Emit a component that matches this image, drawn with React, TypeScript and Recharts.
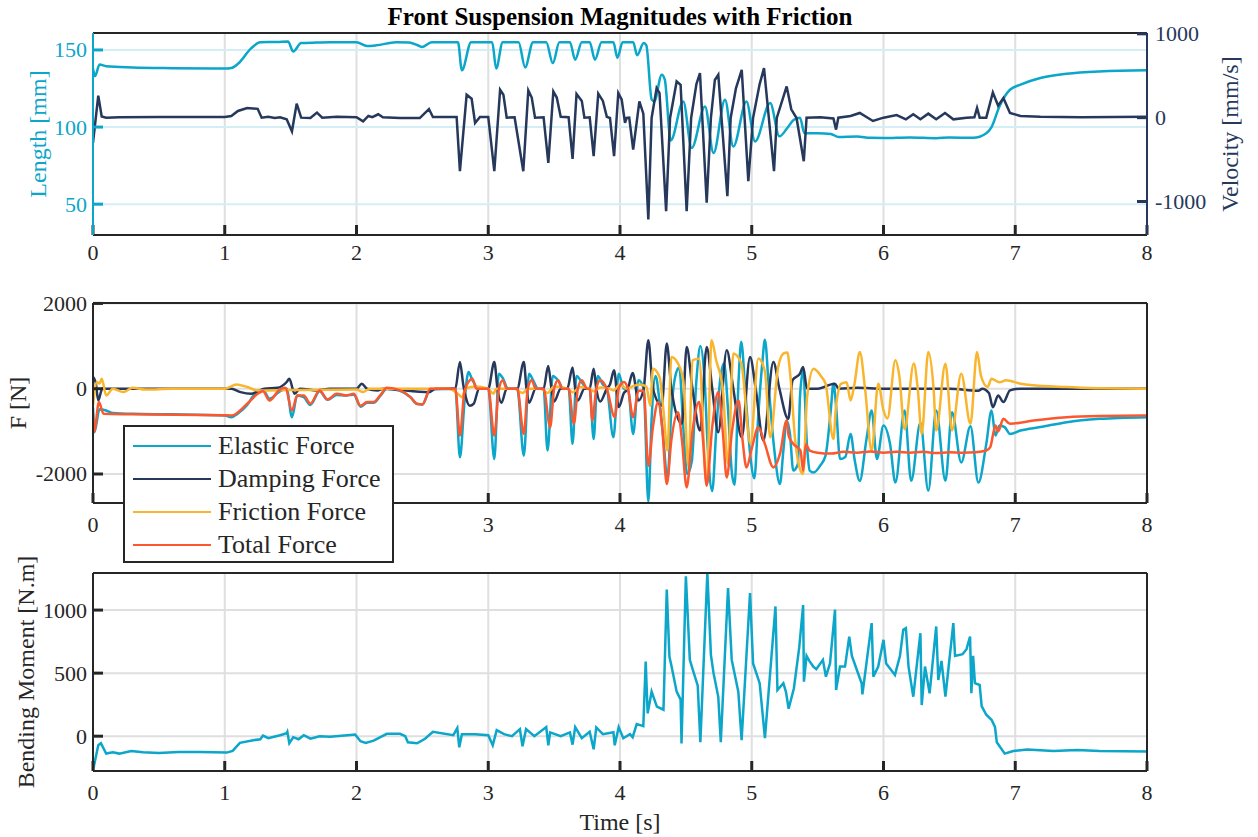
import { LineChart, Line, XAxis, YAxis, CartesianGrid, Legend } from 'recharts'

const CYAN = '#0ba6c9'
const NAVY = '#26385b'
const GOLD = '#f9b52e'
const RED = '#fc5830'
const INK = '#262626'
const GRID = '#dfdfdf'
const GRID_BLUE = '#d4eef5'
const FONT = "'Liberation Serif', 'Times New Roman', serif"

const timeTicks = [0, 1, 2, 3, 4, 5, 6, 7, 8]
const lengthTicks = [50, 100, 150]
const velocityTicks = [-1000, 0, 1000]
const forceTicks = [-2000, 0, 2000]
const momentTicks = [0, 500, 1000]
const forceNames = ['Elastic Force', 'Damping Force', 'Friction Force', 'Total Force']

type Pt = [number, number]

// [time s, length mm]
const lengthPts: Pt[] = [
  [0, 138], [0.015, 133], [0.05, 140.5], [0.1, 139.5], [0.3, 138.7], [0.6, 138.2], [1.0, 137.9], [1.05, 138.3],
  [1.1, 141], [1.2, 151], [1.27, 155], [1.4, 155.2], [1.48, 155.5], [1.52, 149], [1.58, 154.5], [1.7, 154.8],
  [1.8, 155], [2.0, 155], [2.08, 152.6], [2.15, 153], [2.3, 155], [2.4, 154.8], [2.46, 153.2], [2.5, 152],
  [2.57, 155], [2.77, 155], [2.8, 136.8], [2.87, 155], [3.03, 155], [3.06, 138], [3.11, 155], [3.23, 155],
  [3.28, 138.7], [3.34, 155], [3.44, 155], [3.49, 141.5], [3.54, 155], [3.62, 155], [3.66, 143.7], [3.71, 155],
  [3.77, 155], [3.81, 143.7], [3.86, 155], [3.95, 155], [3.98, 145], [4.02, 155], [4.1, 155], [4.13, 146.6],
  [4.18, 154.5], [4.2, 153], [4.24, 118], [4.26, 116.6], [4.317, 134], [4.34, 130.7], [4.385, 91.3], [4.48, 116.6],
  [4.544, 86.4], [4.645, 113.4], [4.71, 83.2], [4.797, 117.7], [4.86, 87.4], [4.96, 116.6], [5.025, 90.7],
  [5.14, 115.6], [5.21, 94], [5.27, 99.4], [5.32, 104.7], [5.366, 106], [5.4, 96], [5.5, 96], [5.6, 95.5],
  [5.66, 93.5], [5.8, 93.8], [5.9, 93], [6.0, 92.9], [6.2, 93.3], [6.4, 92.8], [6.5, 93.2], [6.68, 93],
  [6.78, 96], [6.82, 100], [6.88, 113.4], [6.96, 124.2], [7.04, 127.5], [7.19, 131.8], [7.39, 134.6],
  [7.64, 136.1], [8.0, 136.8],
]

// [time s, velocity mm/s]
const velocityPts: Pt[] = [
  [0, -300], [0.04, 262], [0.066, 15], [0.1, 0], [0.2, 5], [0.5, 8], [1.0, 8], [1.05, 20], [1.1, 80], [1.17, 115],
  [1.25, 105], [1.28, 0], [1.33, 10], [1.38, -5], [1.42, 5], [1.47, -20], [1.51, -163], [1.546, 167], [1.58, 0],
  [1.65, -5], [1.7, 60], [1.74, 0], [1.85, 10], [2.0, 5], [2.05, -44], [2.09, 20], [2.12, 5], [2.165, 40],
  [2.2, 5], [2.33, -5], [2.48, -5], [2.55, 103], [2.58, 8], [2.76, 8], [2.785, -639], [2.836, 274], [2.874, 226],
  [2.9, -63], [2.937, 8], [3.0, 8], [3.046, -639], [3.09, 333], [3.115, 274], [3.14, 0], [3.2, 5], [3.266, -639],
  [3.304, 325], [3.33, 240], [3.355, 0], [3.42, 5], [3.456, -539], [3.494, 313], [3.52, 240], [3.55, 10],
  [3.61, 5], [3.64, -492], [3.67, 282], [3.71, 200], [3.73, 0], [3.77, 5], [3.8, -460], [3.835, 286], [3.87, 200],
  [3.9, 10], [3.924, -4], [3.955, -460], [3.987, 294], [4.013, 214], [4.038, -63], [4.05, -4], [4.07, 0],
  [4.1, -381], [4.147, 194], [4.177, 48], [4.215, -1214], [4.24, -4], [4.278, 353], [4.3, 294], [4.35, -1115],
  [4.38, -4], [4.43, 432], [4.46, 392], [4.506, -1115], [4.54, -4], [4.58, 400], [4.607, 532], [4.658, -1015],
  [4.69, -4], [4.72, 450], [4.746, 512], [4.815, -936], [4.84, -4], [4.88, 350], [4.924, 571], [4.974, -758],
  [5.01, -4], [5.06, 400], [5.093, 591], [5.169, -639], [5.19, -4], [5.265, 373], [5.3, 100], [5.34, -4],
  [5.395, -520], [5.416, 0], [5.52, 5], [5.62, -10], [5.64, -143], [5.657, 0], [5.75, 20], [5.82, 56],
  [5.92, -40], [6.0, 0], [6.1, 30], [6.17, -20], [6.226, 40], [6.28, -20], [6.34, 48], [6.4, -20], [6.467, 56],
  [6.53, -20], [6.63, 0], [6.69, 5], [6.71, 115], [6.73, 0], [6.78, 0], [6.83, 301], [6.87, 143], [6.91, 234],
  [6.96, 56], [7.04, 20], [7.19, 10], [7.5, 5], [8.0, 10],
]

// [time s, force N]
const elasticPts: Pt[] = [
  [0, -433], [0.01, -1021], [0.05, -480], [0.1, -510], [0.15, -570], [0.3, -590], [0.6, -600], [1.0, -628],
  [1.05, -667], [1.1, -580], [1.17, -380], [1.22, -158], [1.27, -60], [1.29, -30], [1.34, -235], [1.41, -80],
  [1.47, 0], [1.51, -667], [1.55, -157], [1.6, -200], [1.65, -380], [1.72, -60], [1.78, -260], [1.85, -150],
  [1.92, -160], [1.98, -140], [2.03, -420], [2.08, -330], [2.13, -330], [2.18, -170], [2.23, 0], [2.33, -50],
  [2.41, -200], [2.46, -360], [2.5, -370], [2.56, -20], [2.75, 0], [2.785, -1610], [2.82, -300], [2.85, 392],
  [2.88, 200], [2.93, 0], [3.0, 0], [3.046, -1650], [3.08, 350], [3.11, 250], [3.15, 0], [3.22, 0],
  [3.27, -1570], [3.31, 350], [3.34, 200], [3.38, 0], [3.42, 0], [3.45, -1450], [3.49, 300], [3.53, 200],
  [3.57, 0], [3.61, 0], [3.64, -1295], [3.67, 300], [3.71, 150], [3.75, 0], [3.77, 0], [3.8, -1180], [3.83, 300],
  [3.87, 100], [3.9, 0], [3.95, -1140], [3.99, 353], [4.03, 0], [4.06, 0], [4.1, -1060], [4.14, 200], [4.18, 0],
  [4.215, -2650], [4.24, -700], [4.27, 300], [4.3, -300], [4.33, -1200], [4.36, -2150], [4.39, -500], [4.42, 300],
  [4.45, 500], [4.48, -900], [4.51, -2000], [4.545, -1700], [4.58, 200], [4.61, 1000], [4.64, 300], [4.67, -1600],
  [4.7, -2400], [4.73, -1000], [4.76, 200], [4.79, 600], [4.82, -500], [4.85, -2000], [4.87, -2250], [4.9, 200],
  [4.92, 1100], [4.95, 0], [4.99, -1600], [5.02, -2100], [5.05, -600], [5.08, 600], [5.1, 1150], [5.13, 0],
  [5.17, -1400], [5.214, -2235], [5.24, -1450], [5.265, -745], [5.29, -1060], [5.315, -1920], [5.35, -1765],
  [5.366, -196], [5.39, 430], [5.42, -1370], [5.44, -1920], [5.47, -1963], [5.52, -1800], [5.56, -1570],
  [5.6, -500], [5.62, 118], [5.64, -400], [5.67, -1650], [5.71, -1600], [5.75, -1060], [5.78, -1650],
  [5.82, -2160], [5.87, -1200], [5.91, -510], [5.95, -1650], [6.0, -860], [6.05, -1300], [6.09, -2200],
  [6.16, -510], [6.21, -2160], [6.28, -800], [6.34, -2390], [6.4, -510], [6.47, -2160], [6.52, -550],
  [6.59, -1730], [6.66, -880], [6.72, -2200], [6.78, -1300], [6.82, -510], [6.85, -1100], [6.88, -860],
  [6.92, -900], [6.96, -1060], [7.04, -980], [7.19, -900], [7.39, -784], [7.64, -706], [8.0, -667],
]

const dampingPts: Pt[] = [
  [0, 275], [0.02, 150], [0.04, -275], [0.07, 0], [0.2, 0], [1.05, 0], [1.12, -80], [1.2, -118], [1.25, -60],
  [1.3, 0], [1.4, 20], [1.47, 157], [1.49, 235], [1.53, -118], [1.57, 0], [1.7, -40], [1.8, 0], [2.0, 0],
  [2.04, 118], [2.08, 0], [2.16, -40], [2.2, 0], [2.55, -80], [2.6, 0], [2.75, 0], [2.785, 627], [2.81, 100],
  [2.83, -200], [2.86, -400], [2.89, -350], [2.93, 0], [3.0, 0], [3.046, 627], [3.07, 0], [3.1, -330], [3.14, 0],
  [3.22, 0], [3.27, 627], [3.29, 0], [3.31, -330], [3.36, 0], [3.42, 0], [3.455, 530], [3.48, 0], [3.5, -300],
  [3.55, 0], [3.6, 0], [3.64, 500], [3.66, 0], [3.68, -280], [3.73, 0], [3.77, 0], [3.8, 470], [3.82, 0],
  [3.85, -300], [3.9, 0], [3.924, 100], [3.955, 431], [3.99, -431], [4.03, -100], [4.06, 0], [4.096, 369],
  [4.14, -275], [4.18, 0], [4.215, 1137], [4.25, 0], [4.317, -392], [4.355, 1059], [4.39, 0], [4.47, -823],
  [4.506, 980], [4.55, 0], [4.607, -980], [4.658, 980], [4.7, 0], [4.746, -1020], [4.81, 902], [4.86, 0],
  [4.924, -1137], [4.987, 745], [5.03, 0], [5.088, -1215], [5.164, 627], [5.21, 0], [5.277, -706], [5.31, 200],
  [5.366, 353], [5.39, 510], [5.42, 0], [5.5, 0], [5.63, 118], [5.66, 0], [5.8, 20], [6.0, 0], [6.5, 0],
  [6.72, -50], [6.75, 0], [6.8, -100], [6.83, -433], [6.87, -157], [6.91, -314], [6.96, -40], [7.04, 0], [8.0, 0],
]

const frictionPts: Pt[] = [
  [0, -392], [0.03, 157], [0.05, 120], [0.066, 235], [0.1, -157], [0.15, 0], [0.23, -78], [0.3, 20], [0.4, -20],
  [0.6, 0], [1.0, 0], [1.09, 100], [1.17, 40], [1.25, -40], [1.5, -30], [2.0, -20], [2.05, -78], [2.1, 0],
  [2.7, 0], [2.78, -150], [2.8, -200], [2.83, 0], [2.9, 50], [3.0, 0], [3.04, -120], [3.06, 0], [3.2, 0],
  [3.26, -100], [3.3, 0], [3.4, 0], [3.45, -100], [3.5, 50], [3.6, 0], [3.64, -80], [3.7, 40], [3.77, 0],
  [3.8, -60], [3.85, 30], [3.92, 0], [3.95, -40], [4.0, 100], [4.05, 0], [4.1, 60], [4.15, 100], [4.2, 50],
  [4.23, -400], [4.25, 470], [4.3, 275], [4.33, -510], [4.36, -1450], [4.39, 745], [4.44, 590], [4.48, 200],
  [4.52, -1840], [4.55, 666], [4.6, 700], [4.658, -2250], [4.695, 1137], [4.73, 666], [4.78, 0], [4.82, -1765],
  [4.86, 823], [4.92, 600], [4.99, -1295], [5.05, 710], [5.1, 400], [5.14, -1137], [5.2, 500], [5.24, 823],
  [5.27, 850], [5.29, 400], [5.33, -1215], [5.37, -1920], [5.39, -2000], [5.42, -196], [5.47, 470], [5.53, 275],
  [5.56, 118], [5.62, -1180], [5.64, -400], [5.68, 118], [5.72, 150], [5.75, -275], [5.78, 118], [5.82, 863],
  [5.86, 0], [5.91, -1450], [5.96, 118], [6.0, -510], [6.03, -700], [6.09, 667], [6.12, 300], [6.16, -948],
  [6.23, 590], [6.26, 0], [6.29, -1060], [6.34, 860], [6.38, 0], [6.4, -980], [6.47, 588], [6.52, -980],
  [6.59, 353], [6.66, -823], [6.71, 860], [6.74, 300], [6.79, 40], [6.82, 235], [6.88, 150], [6.93, 196],
  [7.04, 118], [7.14, 80], [7.39, 40], [7.64, 10], [8.0, 0],
]

const totalPts: Pt[] = [
  [0, -590], [0.01, -1000], [0.045, -314], [0.08, -590], [0.3, -600], [1.0, -620], [1.05, -628], [1.17, -353],
  [1.25, -118], [1.29, -60], [1.34, -275], [1.41, -40], [1.46, 20], [1.51, -510], [1.55, -157], [1.6, -160],
  [1.65, -353], [1.72, -40], [1.78, -250], [1.85, -118], [1.92, -157], [1.98, -118], [2.03, -400], [2.08, -314],
  [2.13, -314], [2.18, -157], [2.23, 20], [2.33, -40], [2.41, -196], [2.46, -353], [2.5, -370], [2.56, 0],
  [2.75, 0], [2.785, -1098], [2.82, -50], [2.88, 235], [2.91, 0], [3.0, 0], [3.046, -1098], [3.08, -20],
  [3.11, 200], [3.14, 0], [3.22, 0], [3.27, -1060], [3.3, 0], [3.33, 200], [3.36, 0], [3.42, 0], [3.47, -902],
  [3.5, 0], [3.53, 200], [3.56, 0], [3.61, 0], [3.65, -823], [3.68, 0], [3.71, 200], [3.75, 0], [3.77, 0],
  [3.79, -745], [3.82, 0], [3.85, 200], [3.9, 0], [3.96, -667], [3.99, 0], [4.03, 157], [4.06, 0], [4.1, -667],
  [4.14, -50], [4.18, -50], [4.215, -1805], [4.25, -900], [4.29, -314], [4.32, -900], [4.355, -2235],
  [4.39, -1200], [4.44, -550], [4.47, -1200], [4.506, -2315], [4.55, -1000], [4.6, -314], [4.63, -1200],
  [4.658, -2275], [4.7, -900], [4.746, -78], [4.78, -1000], [4.81, -2080], [4.85, -1000], [4.9, -275],
  [4.93, -1200], [4.96, -1845], [5.0, -1400], [5.05, -902], [5.1, -1300], [5.164, -1845], [5.214, -1530],
  [5.265, -745], [5.28, -1100], [5.315, -1294], [5.37, -1450], [5.39, -1922], [5.41, -1300], [5.44, -1450],
  [5.5, -1500], [5.6, -1520], [5.7, -1480], [5.8, -1500], [5.9, -1470], [6.0, -1500], [6.1, -1480],
  [6.2, -1500], [6.3, -1480], [6.4, -1510], [6.5, -1490], [6.6, -1500], [6.7, -1490], [6.78, -1450],
  [6.81, -1370], [6.85, -860], [6.87, -1000], [6.91, -706], [6.96, -823], [7.14, -745], [7.39, -667],
  [7.64, -640], [8.0, -630],
]

// [time s, bending moment N.m]
const momentPts: Pt[] = [
  [0, -271], [0.04, -72], [0.06, -56], [0.1, -138], [0.15, -127], [0.2, -138], [0.29, -117], [0.38, -127],
  [0.5, -133], [0.65, -125], [0.81, -125], [1.015, -130], [1.06, -117], [1.115, -53], [1.217, -32], [1.27, -24],
  [1.29, 5], [1.33, -16], [1.42, 8], [1.47, 24], [1.475, 35], [1.49, -56], [1.52, -8], [1.56, -24], [1.6, 8],
  [1.65, -20], [1.72, 0], [1.8, -5], [1.93, 8], [1.99, 13], [2.03, -40], [2.07, -53], [2.13, -35], [2.23, 19],
  [2.33, 19], [2.37, 0], [2.39, -48], [2.46, -56], [2.52, -20], [2.58, 35], [2.735, 8], [2.765, 64], [2.78, -88],
  [2.8, 16], [2.9, 16], [3.0, 8], [3.034, -72], [3.064, 48], [3.12, 16], [3.18, 0], [3.24, 56], [3.26, -80],
  [3.287, 56], [3.35, 0], [3.44, 72], [3.456, -72], [3.47, 30], [3.55, 0], [3.62, 30], [3.64, -67], [3.66, 72],
  [3.71, -16], [3.77, 35], [3.8, -104], [3.82, 69], [3.87, 16], [3.95, 32], [3.96, -72], [3.99, 72],
  [4.025, -16], [4.076, 16], [4.096, -8], [4.127, 96], [4.177, 80], [4.195, 591], [4.21, 181], [4.24, 353],
  [4.28, 234], [4.33, 210], [4.355, 1162], [4.375, 631], [4.39, 560], [4.43, 353], [4.46, 290], [4.467, -58],
  [4.5, 1268], [4.53, 605], [4.557, 512], [4.59, 400], [4.61, -48], [4.663, 1295], [4.69, 645], [4.71, 500],
  [4.746, 312], [4.765, -48], [4.82, 1175], [4.848, 605], [4.898, 353], [4.923, -32], [4.987, 1135], [5.01, 577],
  [5.06, 420], [5.1, -16], [5.18, 1029], [5.195, 366], [5.24, 420], [5.26, 350], [5.28, 218], [5.32, 380],
  [5.36, 700], [5.39, 1040], [5.396, 432], [5.416, 637], [5.437, 597], [5.467, 552], [5.49, 531], [5.54, 605],
  [5.563, 472], [5.594, 577], [5.632, 1003], [5.64, 366], [5.67, 552], [5.708, 552], [5.74, 790], [5.76, 637],
  [5.834, 420], [5.84, 332], [5.91, 897], [5.923, 472], [5.96, 552], [6.0, 764], [6.02, 577], [6.087, 486],
  [6.125, 637], [6.15, 844], [6.17, 857], [6.19, 552], [6.226, 313], [6.28, 817], [6.29, 247], [6.315, 552],
  [6.35, 340], [6.4, 870], [6.416, 446], [6.44, 597], [6.47, 313], [6.53, 897], [6.543, 637], [6.6, 650],
  [6.63, 690], [6.657, 790], [6.667, 340], [6.68, 637], [6.694, 420], [6.73, 406], [6.745, 239], [6.78, 170],
  [6.82, 130], [6.846, 74], [6.86, -48], [6.92, -138], [6.985, -117], [7.09, -106], [7.29, -117], [7.47, -109],
  [7.64, -117], [8.0, -122],
]

const rows = (pts: Pt[]) => pts.map(([t, v]) => ({ t, v }))

// tick text drawn by hand so the serif font sticks
function tickText(color: string, axis: 'x' | 'y', hide: number[] = []) {
  return (p: any) => {
    const v = p.payload?.value
    if (hide.includes(v)) return <g />
    return (
      <text x={p.x} y={p.y} dy={axis === 'x' ? '0.71em' : '0.34em'} textAnchor={p.textAnchor} fill={color}
        style={{ fontFamily: FONT, fontSize: 22 }}>
        {v}
      </text>
    )
  }
}

function AxisTitle({ text, x, y, color = INK, rotate = true }: { text: string; x: number; y: number; color?: string; rotate?: boolean }) {
  return (
    <div style={{
      position: 'absolute', left: x, top: y, transform: `translate(-50%, -50%)${rotate ? ' rotate(-90deg)' : ''}`,
      whiteSpace: 'nowrap', fontSize: 24, lineHeight: '26px', color, fontFamily: FONT, zIndex: 2,
    }}>
      {text}
    </div>
  )
}

function ForceLegend(props: any) {
  const items = [...(props.payload || [])].sort((a: any, b: any) => forceNames.indexOf(a.value) - forceNames.indexOf(b.value))
  return (
    <div style={{
      border: `2px solid ${INK}`, background: '#fff', width: 271, height: 138, boxSizing: 'border-box',
      paddingTop: 2, fontFamily: FONT,
    }}>
      {items.map((it: any) => (
        <div key={it.value} style={{ display: 'flex', alignItems: 'center', height: 33 }}>
          <span style={{ display: 'inline-block', width: 78, borderTop: `2.5px solid ${it.color}`, marginLeft: 8, marginRight: 7 }} />
          <span style={{ fontSize: 26, color: INK, lineHeight: '33px' }}>{it.value}</span>
        </div>
      ))}
    </div>
  )
}

function bottomTime(height: number, margin: number, hide: number[] = []) {
  return (
    <XAxis
      xAxisId="b" dataKey="t" type="number" domain={[0, 8]} ticks={timeTicks} interval={0}
      height={height} tickSize={-10} tickMargin={margin} stroke={INK}
      axisLine={{ stroke: INK, strokeWidth: 2 }} tickLine={{ stroke: INK, strokeWidth: 3 }}
      tick={tickText(INK, 'x', hide)} allowDataOverflow
    />
  )
}

function topTime() {
  return (
    <XAxis
      xAxisId="top" orientation="top" dataKey="t" type="number" domain={[0, 8]} ticks={timeTicks} interval={0}
      height={1} tickSize={-10} stroke={INK} axisLine={{ stroke: INK, strokeWidth: 2 }}
      tickLine={{ stroke: INK, strokeWidth: 3 }} tick={false} allowDataOverflow
    />
  )
}

export default function App() {
  return (
    <div style={{ position: 'absolute', left: 0, top: 0, width: 1258, height: 837, background: '#fff', fontFamily: FONT }}>
      <div style={{
        position: 'absolute', left: 0, top: 2, width: 1240, textAlign: 'center', fontWeight: 'bold',
        fontSize: 25, lineHeight: '30px', color: '#000', fontFamily: FONT,
      }}>
        Front Suspension Magnitudes with Friction
      </div>

      {/* length / velocity */}
      <div style={{ position: 'absolute', left: 0, top: 0 }}>
        <LineChart width={1258} height={270} margin={{ top: 32, right: 51, bottom: 0, left: 33 }}>
          <CartesianGrid xAxisId="b" yAxisId="L" horizontal={false} stroke={GRID} strokeWidth={2} />
          <CartesianGrid xAxisId="b" yAxisId="L" vertical={false} stroke={GRID_BLUE} strokeWidth={2} />
          {bottomTime(35, 19)}
          {topTime()}
          <YAxis
            yAxisId="L" type="number" domain={[30, 161]} ticks={lengthTicks} interval={0} width={60}
            tickSize={-10} tickMargin={16} stroke={CYAN} axisLine={{ stroke: CYAN, strokeWidth: 2 }}
            tickLine={{ stroke: CYAN, strokeWidth: 3 }} tick={tickText(CYAN, 'y')} allowDataOverflow
          />
          <YAxis
            yAxisId="R" orientation="right" type="number" domain={[-1400, 1010]} ticks={velocityTicks} interval={0}
            width={60} tickSize={-10} tickMargin={18} stroke={NAVY} axisLine={{ stroke: NAVY, strokeWidth: 2 }}
            tickLine={{ stroke: NAVY, strokeWidth: 3 }} tick={tickText(NAVY, 'y')} allowDataOverflow
          />
          <Line xAxisId="b" yAxisId="L" data={rows(lengthPts)} dataKey="v" type="monotone" stroke={CYAN}
            strokeWidth={2.5} dot={false} isAnimationActive={false} />
          <Line xAxisId="b" yAxisId="R" data={rows(velocityPts)} dataKey="v" type="linear" stroke={NAVY}
            strokeWidth={2.5} dot={false} isAnimationActive={false} />
        </LineChart>
      </div>

      {/* forces */}
      <div style={{ position: 'absolute', left: 0, top: 270 }}>
        <LineChart width={1258} height={295} margin={{ top: 32, right: 110, bottom: 0, left: 33 }}>
          <CartesianGrid xAxisId="b" yAxisId="F" stroke={GRID} strokeWidth={2} />
          {bottomTime(62, 23, [1, 2])}
          {topTime()}
          <YAxis
            yAxisId="F" type="number" domain={[-2680, 2010]} ticks={forceTicks} interval={0} width={60}
            tickSize={-10} tickMargin={16} stroke={INK} axisLine={{ stroke: INK, strokeWidth: 2 }}
            tickLine={{ stroke: INK, strokeWidth: 3 }} tick={tickText(INK, 'y')} allowDataOverflow
          />
          <YAxis
            yAxisId="F2" orientation="right" type="number" domain={[-2680, 2010]} ticks={forceTicks} interval={0}
            width={1} tickSize={-10} stroke={INK} axisLine={{ stroke: INK, strokeWidth: 2 }}
            tickLine={{ stroke: INK, strokeWidth: 3 }} tick={false} allowDataOverflow
          />
          <Line xAxisId="b" yAxisId="F" data={rows(elasticPts)} dataKey="v" name="Elastic Force" type="monotone"
            stroke={CYAN} strokeWidth={2.5} dot={false} isAnimationActive={false} />
          <Line xAxisId="b" yAxisId="F" data={rows(dampingPts)} dataKey="v" name="Damping Force" type="monotone"
            stroke={NAVY} strokeWidth={2.5} dot={false} isAnimationActive={false} />
          <Line xAxisId="b" yAxisId="F" data={rows(frictionPts)} dataKey="v" name="Friction Force" type="monotone"
            stroke={GOLD} strokeWidth={2.5} dot={false} isAnimationActive={false} />
          <Line xAxisId="b" yAxisId="F" data={rows(totalPts)} dataKey="v" name="Total Force" type="monotone"
            stroke={RED} strokeWidth={2.5} dot={false} isAnimationActive={false} />
          <Legend
            layout="vertical" align="center" verticalAlign="middle" content={ForceLegend}
            wrapperStyle={{ left: 123, top: 155, width: 271, height: 138, zIndex: 3 }}
          />
        </LineChart>
      </div>

      {/* bending moment */}
      <div style={{ position: 'absolute', left: 0, top: 565 }}>
        <LineChart width={1258} height={272} margin={{ top: 7, right: 110, bottom: 0, left: 33 }}>
          <CartesianGrid xAxisId="b" yAxisId="M" stroke={GRID} strokeWidth={2} />
          {bottomTime(66, 23)}
          {topTime()}
          <YAxis
            yAxisId="M" type="number" domain={[-276, 1294]} ticks={momentTicks} interval={0} width={60}
            tickSize={-10} tickMargin={16} stroke={INK} axisLine={{ stroke: INK, strokeWidth: 2 }}
            tickLine={{ stroke: INK, strokeWidth: 3 }} tick={tickText(INK, 'y')} allowDataOverflow
          />
          <YAxis
            yAxisId="M2" orientation="right" type="number" domain={[-276, 1294]} ticks={momentTicks} interval={0}
            width={1} tickSize={-10} stroke={INK} axisLine={{ stroke: INK, strokeWidth: 2 }}
            tickLine={{ stroke: INK, strokeWidth: 3 }} tick={false} allowDataOverflow
          />
          <Line xAxisId="b" yAxisId="M" data={rows(momentPts)} dataKey="v" stroke={CYAN}
            strokeWidth={2.5} dot={false} isAnimationActive={false} />
        </LineChart>
      </div>

      <AxisTitle text="Length [mm]" x={38} y={134} color={CYAN} />
      <AxisTitle text="Velocity [mm/s]" x={1230} y={134} color={NAVY} />
      <AxisTitle text="F [N]" x={18} y={403} />
      <AxisTitle text="Bending Moment [N.m]" x={26} y={672} />
      <AxisTitle text="Time [s]" x={620} y={822} rotate={false} />
    </div>
  )
}
